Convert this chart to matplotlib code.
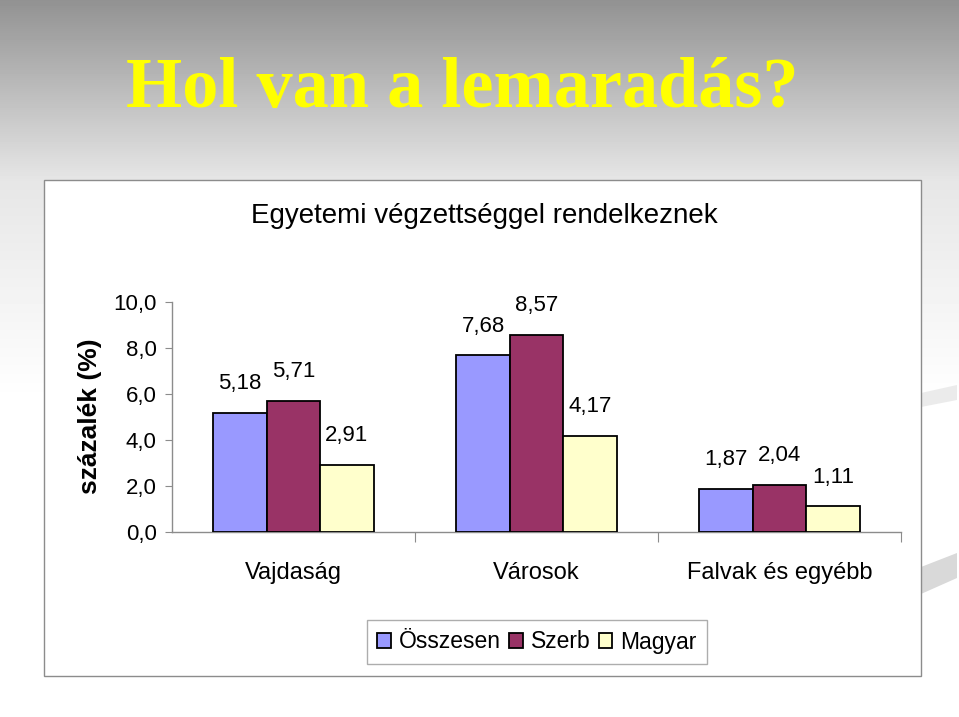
import numpy as np
import matplotlib
matplotlib.use("Agg")
import matplotlib.pyplot as plt
from matplotlib.patches import Rectangle, Polygon

categories = ["Vajdaság", "Városok", "Falvak és egyébb"]
series_names = ["Összesen", "Szerb", "Magyar"]
osszesen = [5.18, 7.68, 1.87]
szerb = [5.71, 8.57, 2.04]
magyar = [2.91, 4.17, 1.11]
yticks = [0, 2, 4, 6, 8, 10]
colors = ["#9999FF", "#993366", "#FFFFCC"]

plt.rcParams['font.family'] = ['Liberation Sans', 'DejaVu Sans']

W, H = 959, 717
fig = plt.figure(figsize=(W / 100, H / 100), dpi=100)

# background gradient
bg = fig.add_axes([0, 0, 1, 1], zorder=-10)
ys = np.arange(H)
top, mid = 0x92 / 255, 0xe6 / 255
vals = np.where(ys < 180, top + (mid - top) * ys / 180,
                np.clip(mid + (1 - mid) * (ys - 180) / 220, 0, 1))
img = np.repeat(vals[:, None], 4, axis=1)
bg.imshow(img, cmap="gray", vmin=0, vmax=1, aspect="auto", extent=[0, W, H, 0])
bg.set_xlim(0, W)
bg.set_ylim(H, 0)
bg.axis("off")
# decorative swooshes on the right
bg.add_patch(Polygon([[921, 393], [957, 385], [957, 400], [921, 407]], closed=True,
                     facecolor="#ebebeb", edgecolor="none"))
bg.add_patch(Polygon([[921, 567], [957, 553], [957, 578], [921, 594]], closed=True,
                     facecolor="#d9d9d9", edgecolor="none"))
# chart box
bg.add_patch(Rectangle((44, 180), 877, 496, facecolor="white", edgecolor="#8c8c8c", lw=1))

fig.text(462 / W, 1 - 90 / H, "Hol van a lemaradás?", family="Liberation Serif",
         color="#FFFF00", fontsize=52, fontweight="bold", ha="center", va="center")
fig.text(484 / W, 1 - 216 / H, "Egyetemi végzettséggel rendelkeznek",
         fontsize=20, ha="center", va="center", color="black")

ax = fig.add_axes([172 / W, 1 - 532 / H, 729 / W, 230 / H])
ax.set_facecolor("none")
x = np.arange(len(categories))
bw = 0.22
for i, (vals_s, c) in enumerate(zip([osszesen, szerb, magyar], colors)):
    bars = ax.bar(x + (i - 1) * bw, vals_s, bw, color=c, edgecolor="black",
                  linewidth=1.3, label=series_names[i], zorder=3)
    for b, v in zip(bars, vals_s):
        ax.annotate(f"{v:.2f}".replace(".", ","),
                    (b.get_x() + b.get_width() / 2, v), xytext=(0, 21),
                    textcoords="offset points", ha="center", va="center", fontsize=16)

ax.set_xlim(-0.5, 2.5)
ax.set_ylim(0, 10)
ax.set_yticks(yticks)
ax.set_yticklabels([f"{v:.1f}".replace(".", ",") for v in yticks], fontsize=16)
ax.set_xticks([0.5, 1.5, 2.5], minor=False)
ax.set_xticklabels([])
ax.tick_params(axis="x", length=7, color="#8c8c8c", direction="out")
ax.tick_params(axis="y", length=5, color="#8c8c8c", direction="out", pad=6)
for i, cat in enumerate(categories):
    ax.text(i, -0.13, cat, transform=ax.get_xaxis_transform(), ha="center",
            va="top", fontsize=17, color="black")
for s in ["top", "right"]:
    ax.spines[s].set_visible(False)
for s in ["left", "bottom"]:
    ax.spines[s].set_color("#8c8c8c")
    ax.spines[s].set_linewidth(1)
fig.text(90 / W, 1 - 416 / H, "százalék (%)", rotation=90, fontsize=19,
         fontweight="bold", ha="center", va="center")

leg = fig.legend(loc="center", bbox_to_anchor=(537 / W, 1 - 642 / H), ncol=3,
                 fontsize=16.5, frameon=True, fancybox=False, edgecolor="#999999",
                 handlelength=0.6, handleheight=0.6, handletextpad=0.35,
                 columnspacing=0.35, borderpad=0.45, borderaxespad=0)
leg.get_frame().set_linewidth(1)

fig.savefig("out.png", dpi=100)
